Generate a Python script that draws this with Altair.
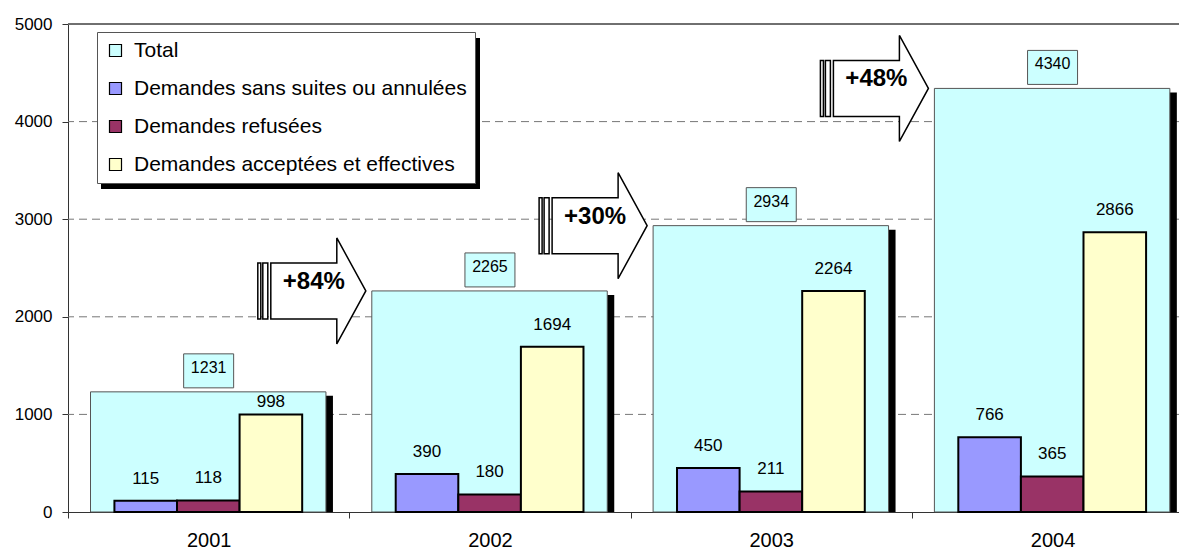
import altair as alt
import pandas as pd

years = ["2001", "2002", "2003", "2004"]
series = ["Total", "Demandes sans suites ou annulées", "Demandes refusées",
          "Demandes acceptées et effectives"]
colors = ["#CCFFFF", "#9999FF", "#993366", "#FFFFCC"]
total = [1231, 2265, 2934, 4340]
sans_suites = [115, 390, 450, 766]
refusees = [118, 180, 211, 365]
acceptees = [998, 1694, 2264, 2866]
y_ticks = [0, 1000, 2000, 3000, 4000, 5000]
grid_values = [1000, 2000, 3000, 4000]

FONT = "Liberation Sans"
BAND_PX = 281.3
PLOT_W = 1111
PLOT_H = 488
XMAX = PLOT_W / BAND_PX
PX = PLOT_H / 5000.0  # pixels per unit

tot_df = pd.DataFrame({"year": years, "idx": list(range(4)), "total": total,
                       "series": ["Total"] * 4})
rows = []
for i, y in enumerate(years):
    for k, (name, vals) in enumerate(zip(series[1:], [sans_suites, refusees, acceptees])):
        rows.append({"year": y, "idx": i, "k": k, "series": name,
                     "value": vals[i], "total": total[i]})
sub_df = pd.DataFrame(rows)
arrow_df = pd.DataFrame({
    "idx": [1, 2, 3],
    "total": total[1:],
    "label": ["+%d%%" % round((total[i + 1] / total[i] - 1) * 100) for i in range(3)],
})
grid_df = pd.DataFrame({"g": grid_values})

xscale = alt.Scale(domain=[0, XMAX], nice=False, zero=False)
yscale = alt.Scale(domain=[0, 5000], nice=False)
color_scale = alt.Scale(domain=series, range=colors)

xaxis = alt.Axis(values=[0, 1, 2, 3], labelExpr="'' + (2001 + datum.value)",
                 labelOffset=BAND_PX / 2, labelFlush=False, tickSize=6,
                 tickColor="#333", domainColor="#333", labelFontSize=20,
                 labelFont=FONT, labelColor="black", labelPadding=12,
                 title=None, grid=False)
yaxis = alt.Axis(values=y_ticks, format="d",
                 tickSize=6, tickColor="#333", domainColor="#333",
                 labelFontSize=17, labelFont=FONT, labelColor="black",
                 labelPadding=10, grid=False, title=None)
legend = alt.Legend(orient="none", legendX=29, legendY=8, title=None,
                    fillColor="white", strokeColor="#555", padding=8,
                    labelFontSize=21, labelFont=FONT, labelColor="black",
                    labelLimit=1000,
                    symbolType="square", symbolSize=144,
                    symbolStrokeColor="black", symbolStrokeWidth=1.2,
                    rowPadding=16, labelOffset=8, symbolOpacity=1)

grid = alt.Chart(grid_df).mark_rule(color="#777", strokeWidth=1,
                                    strokeDash=[8, 5]).encode(
    y=alt.Y("g:Q", scale=yscale, axis=yaxis))

tot_base = alt.Chart(tot_df).transform_calculate(
    x0="datum.idx + 0.08", x1="datum.idx + 0.917", xc="datum.idx + 0.5")

tot_bars = tot_base.mark_rect(stroke="#555", strokeWidth=1, opacity=1,
                              fillOpacity=1).encode(
    x=alt.X("x0:Q", scale=xscale, axis=xaxis),
    x2="x1:Q",
    y=alt.Y("total:Q", scale=yscale, axis=yaxis),
    y2=alt.datum(0),
    color=alt.Color("series:N", scale=color_scale, legend=legend),
)

shadow = tot_base.mark_rect(color="black", xOffset=7, x2Offset=7, yOffset=4,
                            clip=True, opacity=1).encode(
    x=alt.X("x0:Q", scale=xscale, axis=xaxis),
    x2="x1:Q",
    y=alt.Y("total:Q", scale=yscale, axis=yaxis),
    y2=alt.datum(0),
)

sub_base = alt.Chart(sub_df).transform_calculate(
    x0="datum.idx + 0.165 + datum.k * 0.2225",
    x1="datum.idx + 0.165 + (datum.k + 1) * 0.2225",
    xc="datum.idx + 0.165 + (datum.k + 0.5) * 0.2225",
    lab="min(datum.value + %f, datum.total - %f)" % (22 / PX, 10 / PX),
)

sub_bars = sub_base.mark_rect(stroke="black", strokeWidth=2, opacity=1,
                              fillOpacity=1).encode(
    x=alt.X("x0:Q", scale=xscale, axis=xaxis),
    x2="x1:Q",
    y=alt.Y("value:Q", scale=yscale, axis=yaxis),
    y2=alt.datum(0),
    color=alt.Color("series:N", scale=color_scale, legend=legend),
)

sub_labels = sub_base.mark_text(fontSize=17, font=FONT, color="black",
                                baseline="middle").encode(
    x=alt.X("xc:Q", scale=xscale, axis=xaxis),
    y=alt.Y("lab:Q", scale=yscale, axis=yaxis),
    text="value:Q",
)

box_path = "M-25,-38 L25,-38 L25,-4 L-25,-4 Z"
tot_boxes = tot_base.mark_point(shape=box_path, size=4, filled=True,
                                fill="#CCFFFF", stroke="#555", strokeWidth=1,
                                opacity=1).encode(
    x=alt.X("xc:Q", scale=xscale, axis=xaxis),
    y=alt.Y("total:Q", scale=yscale, axis=yaxis),
)
tot_labels = tot_base.mark_text(fontSize=16, font=FONT, color="black",
                                baseline="middle", dy=-24).encode(
    x=alt.X("xc:Q", scale=xscale, axis=xaxis),
    y=alt.Y("total:Q", scale=yscale, axis=yaxis),
    text="total:Q",
)

arrow_path = ("M-6,0 L-35,-53 L-35,-28 L-101,-28 L-101,28 L-35,28 L-35,53 Z "
              "M-114,-28 L-111,-28 L-111,28 L-114,28 Z "
              "M-109,-28 L-104,-28 L-104,28 L-109,28 Z")
arr_base = alt.Chart(arrow_df).transform_calculate(xa="datum.idx + 0.08")
arrows = arr_base.mark_point(shape=arrow_path, size=4, filled=True,
                             fill="white", stroke="black", strokeWidth=1.5,
                             opacity=1).encode(
    x=alt.X("xa:Q", scale=xscale, axis=xaxis),
    y=alt.Y("total:Q", scale=yscale, axis=yaxis),
)
arrow_text = arr_base.mark_text(fontSize=24, fontWeight="bold", font=FONT,
                                color="black", dx=-58, dy=-9,
                                baseline="middle").encode(
    x=alt.X("xa:Q", scale=xscale, axis=xaxis),
    y=alt.Y("total:Q", scale=yscale, axis=yaxis),
    text="label:N",
)

top_line = alt.Chart(tot_df).mark_rule(color="#666", strokeWidth=1).encode(
    y=alt.datum(5000))

legend_shadow = alt.Chart(tot_df).mark_rect(color="black", opacity=1).encode(
    x=alt.value(33), x2=alt.value(412), y=alt.value(14), y2=alt.value(165))

chart = alt.layer(
    grid, shadow, tot_bars, top_line, legend_shadow, sub_bars, sub_labels,
    tot_boxes, tot_labels, arrows, arrow_text,
).properties(
    width=PLOT_W, height=PLOT_H,
    autosize=alt.AutoSizeParams(type="none"),
    padding={"left": 68, "top": 24, "right": 0, "bottom": 40},
    background="white",
).configure_view(stroke=None)

chart.save("out.html", embed_options={"renderer": "svg", "actions": False})
